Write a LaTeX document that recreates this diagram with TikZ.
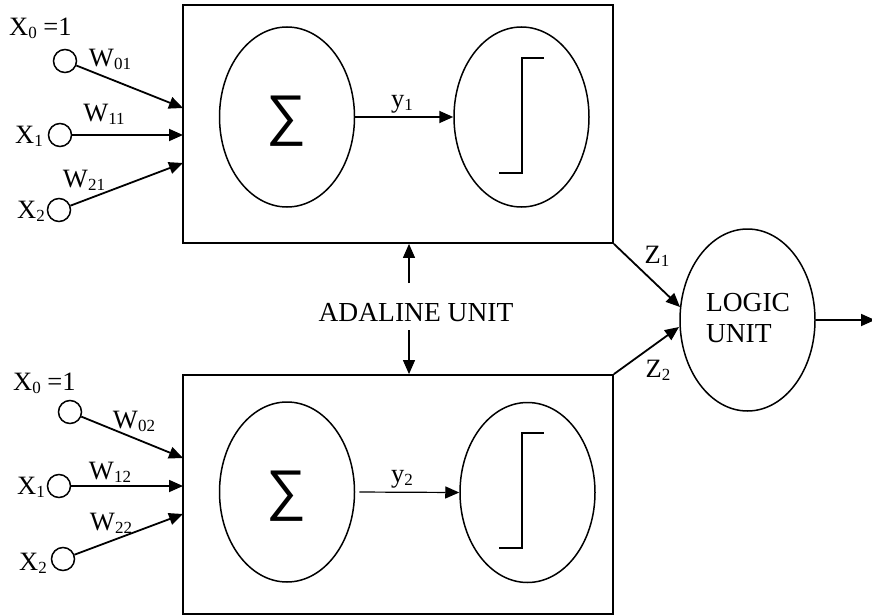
\documentclass[tikz,border=0pt]{standalone}
\usepackage{fontspec}
\setmainfont{Liberation Serif}
\newfontfamily\symfont{Liberation Sans}
\usetikzlibrary{shapes.geometric,arrows.meta}

% subscript in the style of a word processor: smaller digits, slightly lowered
\newcommand{\lowidx}[1]{\raisebox{-0.25ex}{\fontsize{17}{17}\selectfont #1}}

\tikzset{
  lbl/.style={font=\fontsize{26.5}{28}\selectfont, inner sep=0pt},
  biglbl/.style={font=\fontsize{27.5}{31}\selectfont, inner sep=0pt, align=left},
  unitbox/.style={draw, line width=1.8pt, minimum width=430pt, minimum height=238pt, inner sep=0pt},
  oval/.style={draw, ellipse, line width=1.5pt, minimum width=135pt, minimum height=180pt, inner sep=0pt},
  inp/.style={draw, circle, line width=1.5pt, minimum size=23pt, inner sep=0pt},
  arr/.style={line width=1.8pt, -{Triangle[length=14pt,width=12pt]}},
  thin arr/.style={line width=1.2pt, -{Triangle[length=14pt,width=12pt]}},
  stepline/.style={line width=1.8pt},
}

\begin{document}
\begin{tikzpicture}[x=1pt,y=-1pt]
\useasboundingbox (0,0) rectangle (872,615);

% ---------- first ADALINE unit ----------
\node[unitbox] (b1) at (398,124) {};
\node[oval] (s1) at (287,117) {};
\node[oval] (t1) at (521.5,117) {};
\node[inner sep=0pt] at (286,121) {\symfont\fontsize{56}{56}\selectfont ∑};
\draw[stepline] (499,173) -- (522,173) -- (522,58) -- (544,58);
\draw[arr] (s1.east) -- (t1.west);
\node[lbl] at (402,104) {y\lowidx{1}};

% inputs
\node[inp] (x01) at (65,61) {};
\node[inp] (x11) at (60,135) {};
\node[inp] (x21) at (59,210) {};
\node[lbl, anchor=west] at (9,28) {X\lowidx{0} =1};
\node[lbl, anchor=east] at (43,136) {X\lowidx{1}};
\node[lbl, anchor=east] at (45,211) {X\lowidx{2}};
\coordinate (e01) at (183,108);
\coordinate (e11) at (183,135);
\coordinate (e21) at (183,163);
\draw[arr] (x01) -- (e01);
\draw[arr] (x11) -- (e11);
\draw[arr] (x21) -- (e21);
\node[lbl] at (110,59) {W\lowidx{01}};
\node[lbl] at (104,114) {W\lowidx{11}};
\node[lbl] at (84,180) {W\lowidx{21}};

% ---------- second ADALINE unit ----------
\node[unitbox, minimum height=239pt] (b2) at (398,494.5) {};
\node[oval] (s2) at (287,492) {};
\node[oval] (t2) at (527.5,492.5) {};
\node[inner sep=0pt] at (286,496) {\symfont\fontsize{56}{56}\selectfont ∑};
\draw[stepline] (499,548) -- (522,548) -- (522,433) -- (544,433);
\draw[thin arr, shorten <=4pt] (s2.east) -- (t2.west);
\node[lbl] at (402,479) {y\lowidx{2}};

% inputs
\node[inp] (x02) at (70,412) {};
\node[inp] (x12) at (59,486) {};
\node[inp] (x22) at (63,559) {};
\node[lbl, anchor=west] at (13,383) {X\lowidx{0} =1};
\node[lbl, anchor=east] at (45,487) {X\lowidx{1}};
\node[lbl, anchor=east] at (47,563) {X\lowidx{2}};
\coordinate (e02) at (183,458);
\coordinate (e12) at (183,486);
\coordinate (e22) at (183,514);
\draw[arr] (x02) -- (e02);
\draw[arr] (x12) -- (e12);
\draw[arr] (x22) -- (e22);
\node[lbl] at (134,421) {W\lowidx{02}};
\node[lbl] at (110,472) {W\lowidx{12}};
\node[lbl] at (111,523) {W\lowidx{22}};

% ---------- label between the units ----------
\node[biglbl] (ad) at (416,313) {ADALINE UNIT};
\coordinate (au) at (409,283);
\coordinate (ad2) at (409,330);
\draw[thin arr] (au) -- (au |- b1.south);
\draw[thin arr] (ad2) -- (ad2 |- b2.north);

% ---------- logic unit ----------
\node[oval, minimum height=182pt] (lg) at (747.5,320) {};
\node[biglbl] at (748,318) {LOGIC\\UNIT};
\coordinate (lz1) at (680,307);
\coordinate (lz2) at (679,327);
\draw[arr] (b1.south east) -- (lz1);
\draw[arr] (b2.north east) -- (lz2);
\node[lbl] at (657,256) {Z\lowidx{1}};
\node[lbl] at (658,370) {Z\lowidx{2}};
\coordinate (out) at (875,320);
\draw[arr] (lg.east) -- (out);
\end{tikzpicture}
\end{document}
